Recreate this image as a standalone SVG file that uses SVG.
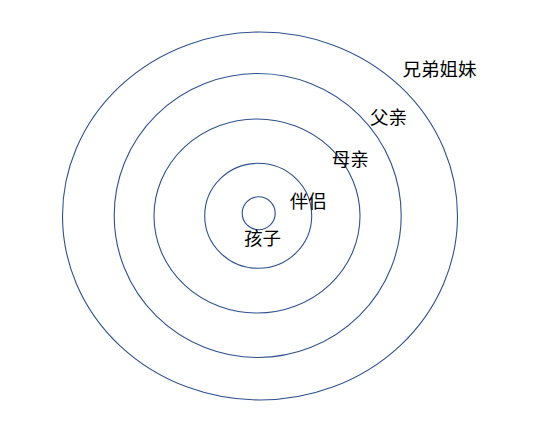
<svg xmlns="http://www.w3.org/2000/svg" width="536" height="434" viewBox="0 0 536 434">
<style>
.ring{fill:none;stroke:#2F528F;stroke-width:1.1}
.lbl{font-family:"Noto Sans CJK SC","Noto Sans",sans-serif;font-size:18.5px;fill:#000}
</style>
<rect width="536" height="434" fill="#fff"/>
<g id="ring-siblings"><ellipse class="ring" cx="260" cy="216" rx="197.5" ry="184"/></g>
<g id="ring-father"><ellipse class="ring" cx="257.7" cy="215.5" rx="143.5" ry="142"/></g>
<g id="ring-mother"><ellipse class="ring" cx="257" cy="216" rx="103" ry="97"/></g>
<g id="ring-partner"><ellipse class="ring" cx="258.2" cy="215.8" rx="53.5" ry="52.5"/></g>
<g id="ring-child"><ellipse class="ring" cx="258.7" cy="213.3" rx="16.5" ry="16.5"/></g>
<g id="labels">
<text class="lbl" x="402.5" y="75.5">兄弟姐妹</text>
<text class="lbl" x="370" y="124">父亲</text>
<text class="lbl" x="331.8" y="166">母亲</text>
<text class="lbl" x="289.8" y="208">伴侣</text>
<text class="lbl" x="244" y="244.5">孩子</text>
</g>
</svg>
